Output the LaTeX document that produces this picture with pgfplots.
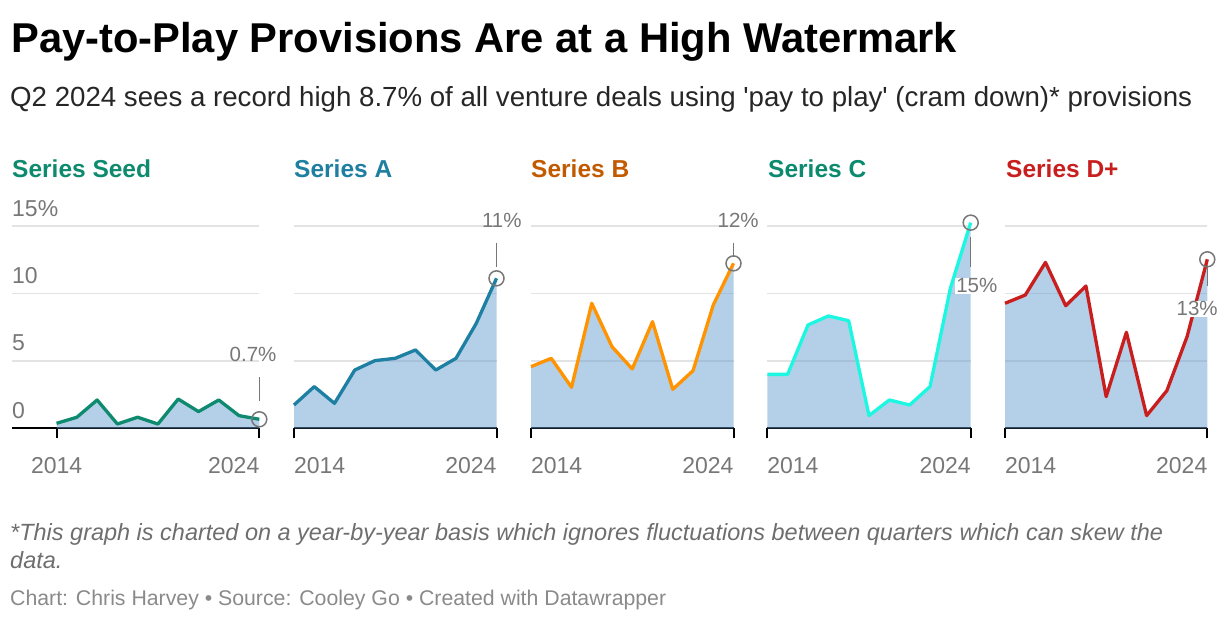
\documentclass[border=0pt]{standalone}
\usepackage{fontspec}
\setmainfont{Liberation Sans}
\usepackage{graphicx}
\usepackage{pgfplots}
\usepackage{pgfplotstable}
\pgfplotsset{compat=1.18}

\definecolor{seedc}{HTML}{0E8A6F}
\definecolor{atitle}{HTML}{1F7FA0}
\definecolor{aline}{HTML}{1D7FA1}
\definecolor{btitle}{HTML}{C15A00}
\definecolor{bline}{HTML}{FF9300}
\definecolor{ctitle}{HTML}{0B8A6E}
\definecolor{cline}{HTML}{1CF7E2}
\definecolor{dc}{HTML}{C81F1E}
\definecolor{fillbase}{HTML}{6A9FD2}
\definecolor{gridc}{HTML}{E3E3E3}
\definecolor{tickgray}{HTML}{777777}
\definecolor{markgray}{HTML}{777777}
\definecolor{fngray}{HTML}{6E6E6E}
\definecolor{srcgray}{HTML}{8A8A8A}

\newcommand\tickfont{\fontsize{23}{27}\selectfont}
\newcommand\valfont{\fontsize{20.5}{24}\selectfont}
\newcommand\paneltitle{\fontsize{24.5}{29}\selectfont\bfseries}

\pgfplotstableread{
year seed a b c d
2014 0.37 1.73 4.57 4.00 9.27
2015 0.82 3.09 5.19 4.00 9.88
2016 2.10 1.85 3.04 7.66 12.30
2017 0.32 4.32 9.27 8.33 9.09
2018 0.82 5.02 6.05 7.98 10.55
2019 0.32 5.19 4.40 0.94 2.35
2020 2.17 5.81 7.91 2.10 7.12
2021 1.24 4.32 2.89 1.73 0.94
2022 2.10 5.19 4.27 3.09 2.79
2023 0.94 7.78 9.14 10.38 6.80
2024 0.67 11.12 12.23 15.25 12.53
}\datatable

\pgfplotsset{
  panel/.style={
    scale only axis,
    height=202.3pt, width=202.5pt,
    anchor=south west,
    ymin=0, ymax=15, xmin=2014, xmax=2024,
    clip=false,
    axis lines*=left,
    x axis line style={black, line width=2pt},
    y axis line style={draw=none},
    xtick={2014,2024},
    xticklabels={\makebox[0pt][l]{2014},\makebox[0pt][r]{2024}},
    ytick={0,5,10,15}, yticklabels={},
    tick align=outside,
    major tick length=10pt,
    xtick style={black, line width=2pt},
    ytick style={draw=none},
    ymajorgrids,
    grid style={gridc, line width=1.5pt},
    xticklabel style={font=\tickfont, text=tickgray, anchor=base, yshift=-35pt},
    /pgf/number format/assume math mode=true,
  },
  area/.style={draw=none, fill=fillbase, fill opacity=0.5},
  ln/.style={line width=3.3pt, line join=round},
  endmark/.style={only marks, mark=o, mark size=7.5pt, mark options={draw=markgray, line width=1.5pt}},
}

\newsavebox\fnbox
\newlength\fnw

\begin{document}
\sbox\fnbox{\color{fngray}\fontsize{21}{25}\selectfont\itshape *This graph is charted on a year-by-year basis which ignores fluctuations between quarters which can skew the}%
\setlength\fnw{\wd\fnbox}%
\pgfmathsetmacro\fnscale{1153pt/\fnw}%
\begin{tikzpicture}[x=1pt,y=1pt]
\path (0,0) rectangle (1220,-622);

% Titles
\node[anchor=base west, inner sep=0pt] at (11,-52) {\resizebox{946pt}{!}{\fontsize{40}{48}\selectfont\bfseries Pay-to-Play Provisions Are at a High Watermark}};
\node[anchor=base west, inner sep=0pt, text=black!85] at (10,-106) {\resizebox{1182pt}{!}{\fontsize{26}{30}\selectfont Q2 2024 sees a record high 8.7\% of all venture deals using \textquotesingle pay to play\textquotesingle{} (cram down)* provisions}};

% Panel titles
\node[anchor=base west, inner sep=0pt, text=seedc] at (12,-177) {\paneltitle Series Seed};
\node[anchor=base west, inner sep=0pt, text=atitle] at (294,-177) {\paneltitle Series A};
\node[anchor=base west, inner sep=0pt, text=btitle] at (531,-177) {\paneltitle Series B};
\node[anchor=base west, inner sep=0pt, text=ctitle] at (768,-177) {\paneltitle Series C};
\node[anchor=base west, inner sep=0pt, text=dc] at (1006,-177) {\paneltitle Series D+};

% Seed
\begin{axis}[panel, at={(12pt,-428.3pt)}, width=247.3pt, xmin=2011.8,
  xticklabels={2014,\makebox[0pt][r]{2024}},
  yticklabels={0,5,10,15\%},
  yticklabel style={font=\tickfont, text=tickgray, anchor=base west, inner sep=0pt, xshift=10pt, yshift=10pt}]
\addplot[area] table[x=year,y=seed]{\datatable} \closedcycle;
\addplot[ln, seedc] table[x=year,y=seed]{\datatable};
\addplot[endmark] coordinates {(2024,0.67)};
\draw[markgray, line width=1.5pt] (axis cs:2024,3.81) -- (axis cs:2024,2.03);
\node[anchor=base, text=tickgray, font=\valfont, inner sep=0pt] at (axis cs:2023.69,4.92) {0.7\%};
\end{axis}

% A
\begin{axis}[panel, at={(294pt,-428.3pt)}]
\addplot[area] table[x=year,y=a]{\datatable} \closedcycle;
\addplot[ln, aline] table[x=year,y=a]{\datatable};
\addplot[endmark] coordinates {(2024,11.12)};
\draw[markgray, line width=1.5pt] (axis cs:2024,13.75) -- (axis cs:2024,11.97);
\node[anchor=base, text=tickgray, font=\valfont, inner sep=0pt] at (axis cs:2024.26,14.86) {11\%};
\end{axis}

% B
\begin{axis}[panel, at={(531pt,-428.3pt)}]
\addplot[area] table[x=year,y=b]{\datatable} \closedcycle;
\addplot[ln, bline] table[x=year,y=b]{\datatable};
\addplot[endmark] coordinates {(2024,12.23)};
\draw[markgray, line width=1.5pt] (axis cs:2024,13.75) -- (axis cs:2024,12.71);
\node[anchor=base, text=tickgray, font=\valfont, inner sep=0pt] at (axis cs:2024.23,14.86) {12\%};
\end{axis}

% C
\begin{axis}[panel, at={(767.3pt,-428.3pt)}, width=203.4pt]
\addplot[area] table[x=year,y=c]{\datatable} \closedcycle;
\addplot[ln, cline] table[x=year,y=c]{\datatable};
\addplot[endmark] coordinates {(2024,15.25)};
\draw[markgray, line width=1.5pt] (axis cs:2024,14.19) -- (axis cs:2024,11.97);
\node[anchor=base, text=tickgray, font=\valfont, inner sep=1pt, fill=white] at (axis cs:2024.3,10.04) {15\%};
\end{axis}

% D+
\begin{axis}[panel, at={(1005pt,-428.3pt)}, width=202.3pt]
\addplot[area] table[x=year,y=d]{\datatable} \closedcycle;
\addplot[ln, dc] table[x=year,y=d]{\datatable};
\addplot[endmark] coordinates {(2024,12.53)};
\draw[markgray, line width=1.5pt] (axis cs:2024,12.13) -- (axis cs:2024,10.57);
\node[overlay, anchor=base, text=tickgray, font=\valfont, inner sep=1pt, fill=white] at (axis cs:2023.5,8.33) {13\%};
\end{axis}

% Footnote
\node[anchor=base west, inner sep=0pt, scale=\fnscale] at (10,-540) {\usebox\fnbox};
\node[anchor=base west, inner sep=0pt, scale=\fnscale] at (10,-568) {\color{fngray}\fontsize{21}{25}\selectfont\itshape data.};
\node[anchor=base west, inner sep=0pt] at (10,-605) {\color{srcgray}\resizebox{656pt}{!}{\fontsize{19}{23}\selectfont Chart: Chris Harvey • Source: Cooley Go • Created with Datawrapper}};
\end{tikzpicture}
\end{document}
